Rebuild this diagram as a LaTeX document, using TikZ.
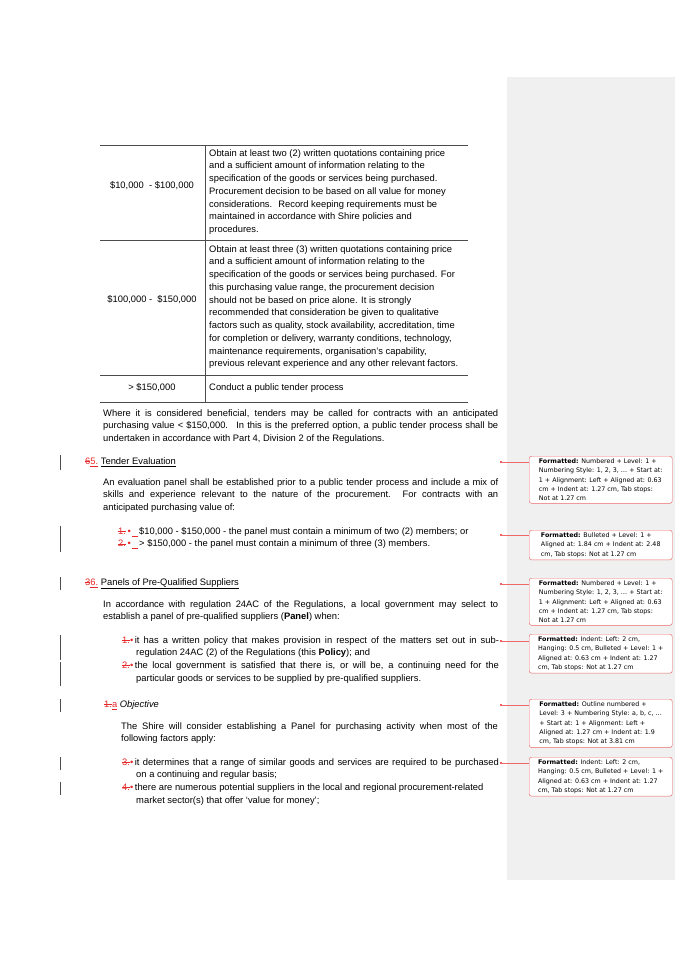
\documentclass[tikz,border=0pt]{standalone}
\usepackage{fontspec}
\setmainfont{Liberation Sans}
\newfontfamily\cmtfont{DejaVu Sans}
\usetikzlibrary{positioning}
\definecolor{revred}{RGB}{230,40,40}
\definecolor{panelgray}{RGB}{240,240,240}
\newcommand{\bodysize}{\fontsize{8}{10.9}\selectfont}
\newcommand{\rv}[1]{\textcolor{revred}{#1}}
\newcommand{\fmt}{\textbf{Formatted:} }
\newcommand{\strk}[1]{\setbox0\hbox{#1}\rlap{\rule[0.3em]{\wd0}{0.35pt}}\box0}
\newcommand{\uln}[1]{\underline{#1}}
\tikzset{
  para/.style={anchor=north west, inner sep=0pt, align=left, font=\bodysize},
  just/.style={para, align=justify, text width=#1},
  cmt/.style={draw=revred!70, rounded corners=2pt, fill=white, anchor=north west,
    inner sep=2pt, minimum width=4.29cm, align=left, font=\cmtfont\fontsize{5.4}{8}\selectfont},
  leader/.style={draw=revred!70, line width=0.4pt},
  bar/.style={draw=black!70, line width=0.5pt}
}
\begin{document}
\begin{tikzpicture}[x=0.03cm, y=-0.03cm]
  \useasboundingbox (0,0) rectangle (675,955);
  \fill[white] (0,0) rectangle (675,955);
  \fill[panelgray] (507,77) rectangle (675,880);
  % table
  \draw[black!70] (100,145) -- (468,145) (100,240) -- (468,240) (100,375) -- (468,375) (100,402) -- (468,402) (205,145) -- (205,402);
  \node[font=\bodysize] (r1) at (152,186) {\$10,000 \ - \$100,000};
  \node[font=\bodysize] (r2) at (152,300) {\$100,000 - \ \$150,000};
  \node[font=\bodysize] (r3) at (152,388) {> \$150,000};
  \node[para] (t1) at (209,149) {Obtain at least two (2) written quotations containing price\\and a sufficient amount of information relating to the\\specification of the goods or services being purchased.\\Procurement decision to be based on all value for money\\considerations. \ Record keeping requirements must be\\maintained in accordance with Shire policies and\\procedures.};
  \node[para] (t2) at (209,245) {Obtain at least three (3) written quotations containing price\\and a sufficient amount of information relating to the\\specification of the goods or services being purchased. For\\this purchasing value range, the procurement decision\\should not be based on price alone. It is strongly\\recommended that consideration be given to qualitative\\factors such as quality, stock availability, accreditation, time\\for completion or delivery, warranty conditions, technology,\\maintenance requirements, organisation's capability,\\previous relevant experience and any other relevant factors.};
  \node[para] (t3) at (209,383) {Conduct a public tender process};
  % body text
  \node[just=11.85cm] (p1) at (103,409) {Where it is considered beneficial, tenders may be called for contracts with an anticipated\linebreak purchasing value < \$150,000. \ In this is the preferred option, a public tender process shall be\linebreak undertaken in accordance with Part 4, Division 2 of the Regulations.};
  \node[para] (h1) at (85,457) {\rv{\strk{6}\uln{5.}} \uln{Tender Evaluation}};
  \node[just=11.85cm] (p2) at (103,478) {An evaluation panel shall be established prior to a public tender process and include a mix of\linebreak skills and experience relevant to the nature of the procurement. For contracts with an\linebreak anticipated purchasing value of:};
  \node[para] (b1) at (118,527) {\rv{\strk{1.}\,\textbullet\,\uln{\ \ }}\,\$10,000 - \$150,000 - the panel must contain a minimum of two (2) members; or\\\rv{\strk{2.}\,\textbullet\,\uln{\ \ }}\,> \$150,000 - the panel must contain a minimum of three (3) members.};
  \node[para] (h2) at (85,578) {\rv{\strk{3}\uln{6.}} \uln{Panels of Pre-Qualified Suppliers}};
  \node[just=11.85cm] (p3) at (103,600) {In accordance with regulation 24AC of the Regulations, a local government may select to\linebreak establish a panel of pre-qualified suppliers (\textbf{Panel}) when:};
  \node[just=11.3cm] (b3) at (122,636) {\rv{\strk{1.}\textbullet}\,it has a written policy that makes provision in respect of the matters set out in sub-\linebreak\hspace*{0.42cm}regulation 24AC (2) of the Regulations (this \textbf{Policy}); and\\\rv{\strk{2.}\textbullet}\,the local government is satisfied that there is, or will be, a continuing need for the\linebreak\hspace*{0.42cm}particular goods or services to be supplied by pre-qualified suppliers.};
  \node[para] (h3) at (104,700) {\rv{\strk{1.}\uln{a}} \textit{Objective}};
  \node[just=11.3cm] (p4) at (121,722) {The Shire will consider establishing a Panel for purchasing activity when most of the\linebreak following factors apply:};
  \node[just=11.3cm] (b5) at (122,758) {\rv{\strk{3.}\textbullet}\,it determines that a range of similar goods and services are required to be purchased\linebreak\hspace*{0.42cm}on a continuing and regular basis;\\\rv{\strk{4.}\textbullet}\,there are numerous potential suppliers in the local and regional procurement-related\\\hspace*{0.42cm}market sector(s) that offer `value for money';};
  % change bars
  \foreach \ya/\yb in {455/470, 526/552, 577/590, 635/660, 662/686, 699/712, 757/770, 782/795}
    \draw[bar] (60,\ya) -- (60,\yb);
  % comments
  \node[cmt] (c1) at (529,456) {\fmt Numbered + Level: 1 +\\Numbering Style: 1, 2, 3, \dots\ + Start at:\\1 + Alignment: Left + Aligned at: 0.63\\cm + Indent at: 1.27 cm, Tab stops:\\Not at 1.27 cm};
  \node[cmt] (c2) at (529,530) {\fmt Bulleted + Level: 1 +\\Aligned at: 1.84 cm + Indent at: 2.48\\cm, Tab stops: Not at 1.27 cm};
  \node[cmt] (c3) at (529,578) {\fmt Numbered + Level: 1 +\\Numbering Style: 1, 2, 3, \dots\ + Start at:\\1 + Alignment: Left + Aligned at: 0.63\\cm + Indent at: 1.27 cm, Tab stops:\\Not at 1.27 cm};
  \node[cmt] (c4) at (529,634) {\fmt Indent: Left: 2 cm,\\Hanging: 0.5 cm, Bulleted + Level: 1 +\\Aligned at: 0.63 cm + Indent at: 1.27\\cm, Tab stops: Not at 1.27 cm};
  \node[cmt] (c5) at (529,699) {\fmt Outline numbered +\\Level: 3 + Numbering Style: a, b, c, \dots\\+ Start at: 1 + Alignment: Left +\\Aligned at: 1.27 cm + Indent at: 1.9\\cm, Tab stops: Not at 3.81 cm};
  \node[cmt] (c6) at (529,757) {\fmt Indent: Left: 2 cm,\\Hanging: 0.5 cm, Bulleted + Level: 1 +\\Aligned at: 0.63 cm + Indent at: 1.27\\cm, Tab stops: Not at 1.27 cm};
  \foreach \c/\y in {c1/462, c2/535, c3/584, c4/641, c5/705, c6/763} {
    \coordinate (a\c) at (501,\y);
    \fill[revred] (a\c) circle (1.2);
    \draw[leader] (a\c) -- (\c.north west |- a\c);
  }
\end{tikzpicture}
\end{document}
